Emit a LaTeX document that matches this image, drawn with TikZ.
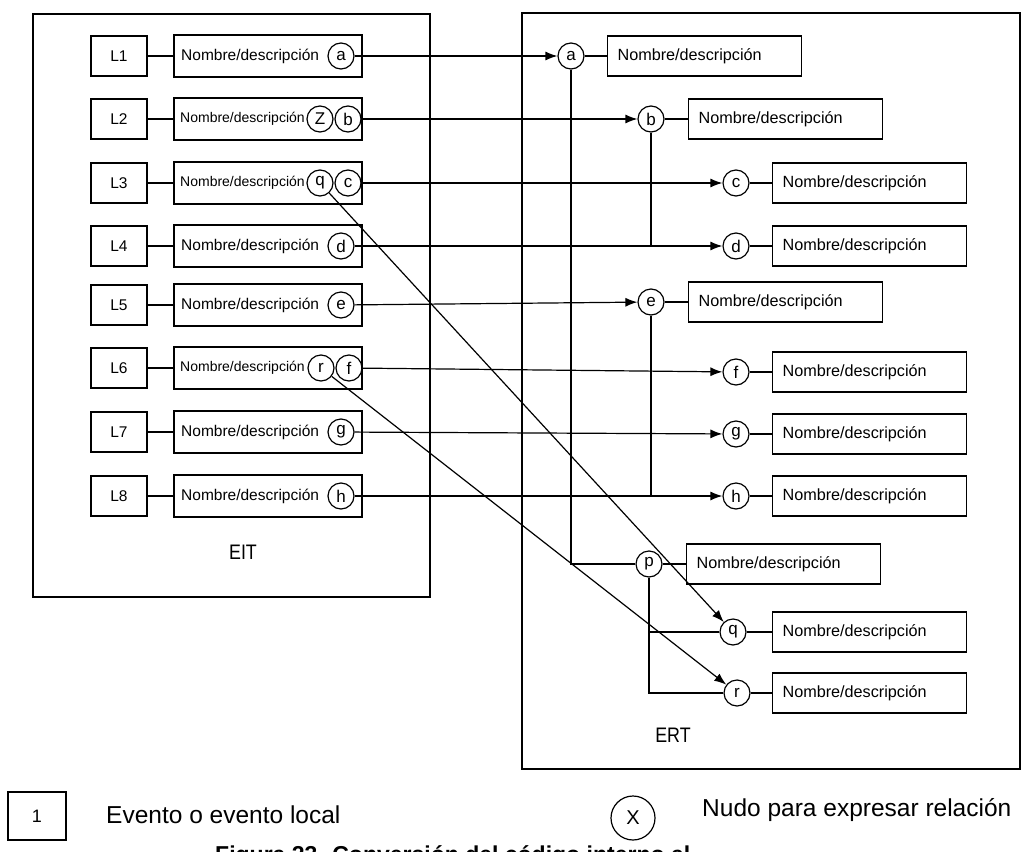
\documentclass[tikz,border=0pt]{standalone}
\usepackage{fontspec}
\setmainfont{Liberation Sans}
\usetikzlibrary{arrows.meta,calc}
\newcommand{\fs}[1]{\fontsize{#1}{#1}\selectfont}
\begin{document}
\begin{tikzpicture}[x=1pt,y=-1pt,
 frame/.style={draw, line width=1.2pt, inner sep=0pt},
 lbox/.style={draw, line width=1.2pt, minimum width=56pt, minimum height=40pt, inner sep=0pt, font=\fs{15.5}},
 nbox/.style={draw, line width=1.2pt, minimum width=188pt, minimum height=42pt, inner sep=0pt},
 ntxt/.style={anchor=west, inner sep=0pt, font=\fs{15.5}},
 ntxtc/.style={anchor=west, inner sep=0pt, font=\fs{14}},
 rbox/.style={draw, line width=1.2pt, anchor=west, text width=174pt, inner xsep=10pt, inner ysep=0pt, minimum height=40pt, align=left, font=\fs{16.2}},
 nd/.style={circle, draw, line width=1.2pt, minimum size=26pt, inner sep=0pt, font=\fs{17}},
 conn/.style={line width=1.2pt},
 arr/.style={conn, -{Latex[length=12pt,width=9pt]}},
 ttl/.style={font=\fs{21}},
 legt/.style={anchor=west, inner sep=0pt, font=\fs{24.5}}
]
\useasboundingbox (0,0) rectangle (1024,851);
\fill[white] (0,0) rectangle (1024,851);

% frames
\node[frame, minimum width=397pt, minimum height=583pt] (eit) at (231.5,305.5) {};
\node[frame, minimum width=498pt, minimum height=756pt] (ert) at (771,391) {};
\node[ttl] (eitl) at (243,552) {\scalebox{0.85}[1]{EIT}};
\node[ttl] (ertl) at (673,735) {\scalebox{0.85}[1]{ERT}};

% left rows
\foreach \i/\y in {1/56,2/119,3/183,4/246,5/305,6/368,7/432,8/496} {
  \node[lbox] (L\i) at (119,\y) {L\i};
  \node[nbox] (N\i) at (268,\y) {};
  \draw[conn] (L\i) -- (N\i);
}
\foreach \i/\y in {1/56,4/246,5/305,7/432,8/496}
  \node[ntxt] (T\i) at (181,\y) {Nombre/descripción};
\foreach \i/\y in {2/119,3/183,6/368}
  \node[ntxtc] (T\i) at (180,\y) {Nombre/descripción};

% left circles
\node[nd] (la) at (341,56) {a};
\node[nd] (lz) at (320,119) {Z};
\node[nd] (lb) at (348,119) {b};
\node[nd] (lq) at (320,183) {q};
\node[nd] (lc) at (348,183) {c};
\node[nd] (ld) at (341,246) {d};
\node[nd] (le) at (341,305) {e};
\node[nd] (lr) at (321,368) {r};
\node[nd] (lf) at (349,368) {f};
\node[nd] (lg) at (341,432) {g};
\node[nd] (lh) at (341,496) {h};

% right circles
\node[nd] (ra) at (571,56) {a};
\node[nd] (rb) at (651,119) {b};
\node[nd] (rc) at (736,183) {c};
\node[nd] (rd) at (736,246) {d};
\node[nd] (re) at (651,302) {e};
\node[nd] (rf) at (736,372) {f};
\node[nd] (rg) at (736,434) {g};
\node[nd] (rh) at (736,496) {h};
\node[nd] (rp) at (649,564) {p};
\node[nd] (rq) at (733,632) {q};
\node[nd] (rr) at (737,693) {r};

% right boxes
\foreach \n/\x in {a/607,b/688,c/772,d/772,e/688,f/772,g/772,h/772,p/686,q/772,r/772} {
  \node[rbox] (B\n) at (\x,0 |- r\n) {Nombre/descripción};
  \draw[conn] (r\n) -- (B\n);
}

% links inside ERT
\draw[conn] (ra.south) |- (rp.west);
\draw[conn] (rb.south) -- (rb |- rd);
\draw[conn] (re.south) -- (re |- rh);
\draw[conn] (rp.south) |- (rr.west);
\draw[conn] (rp |- rq) -- (rq.west);

% arrows
\foreach \n in {a,b,c,d,e,f,g,h}
  \draw[arr] (l\n) -- (r\n);
\draw[arr] (lq) -- (rq);
\draw[arr] (lr) -- (rr);

% legend
\node[draw, line width=1.2pt, minimum width=58pt, minimum height=48pt, inner sep=0pt, font=\fs{18}] (leg1) at (37,816) {1};
\node[legt] (legt1) at (106,815) {Evento o evento local};
\node[nd, minimum size=44pt, font=\fs{20}] (legx) at (633,818) {X};
\node[legt] (legt2) at (702,810) {Nudo para expresar relación};
\node[anchor=base west, inner sep=0pt, font=\bfseries\fs{23}] (cap) at (215,862) {Figura 23. Conversión del código interno al};
\end{tikzpicture}
\end{document}
